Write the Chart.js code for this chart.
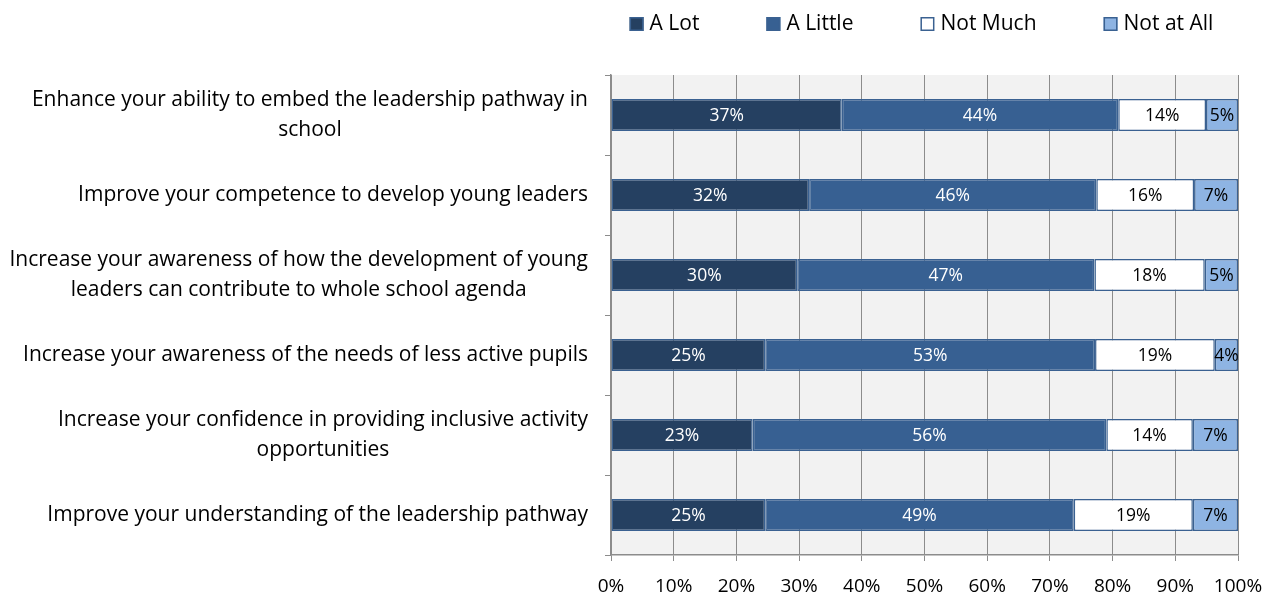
<!DOCTYPE html>
<html>
<head>
<meta charset="utf-8">
<script src="https://cdn.jsdelivr.net/npm/chart.js@4"></script>
<style>
  html, body { margin: 0; padding: 0; background: #fff; }
  #wrap { width: 1266px; height: 594px; }
</style>
</head>
<body>
<div id="wrap"><canvas id="surveyChart" width="1266" height="594"></canvas></div>
<script>
// Survey statements (multi-line labels as in the original)
const statements = [
    ["Enhance your ability to embed the leadership pathway in", "school"],
    ["Improve your competence to develop young leaders"],
    ["Increase your awareness of how the development of young", "leaders can contribute to whole school agenda"],
    ["Increase your awareness of the needs of less active pupils"],
    ["Increase your confidence in providing inclusive activity", "opportunities"],
    ["Improve your understanding of the leadership pathway"]
];

// Share of responses (%)
const aLot     = [36.8, 31.6, 29.7, 24.6, 22.6, 24.6];
const aLittle  = [44.1, 45.8, 47.4, 52.6, 56.4, 49.2];
const notMuch  = [14.0, 15.6, 17.6, 19.1, 13.8, 19.0];
const notAtAll = [5.1, 7.0, 5.3, 3.7, 7.2, 7.2];

const seriesNames = ["A Lot", "A Little", "Not Much", "Not at All"];
const xTicks = [0, 10, 20, 30, 40, 50, 60, 70, 80, 90, 100];

const FONT = "'Open Sans'";
const edge = "#3a6191";

// grey plot background
const plotBackground = {
    id: "plotBackground",
    beforeDraw(chart) {
        const { ctx, chartArea } = chart;
        ctx.save();
        ctx.fillStyle = "#f2f2f2";
        ctx.fillRect(chartArea.left, chartArea.top, chartArea.right - chartArea.left, chartArea.bottom - chartArea.top);
        ctx.restore();
    }
};

// category labels, each block centred on itself and right-aligned to the axis
const categoryLabels = {
    id: "categoryLabels",
    afterDraw(chart) {
        const { ctx, chartArea } = chart;
        const yScale = chart.scales.y;
        ctx.save();
        ctx.font = "21px " + FONT;
        ctx.fillStyle = "#000";
        ctx.textAlign = "center";
        ctx.textBaseline = "middle";
        const lineH = 30;
        const rightEdge = chartArea.left - 23;
        statements.forEach((lines, i) => {
            const y = yScale.getPixelForTick(i);
            const w = Math.max(...lines.map(l => ctx.measureText(l).width));
            const cx = rightEdge - w / 2;
            const y0 = y - (lines.length - 1) * lineH / 2;
            lines.forEach((l, k) => ctx.fillText(l, cx, y0 + k * lineH));
        });
        ctx.restore();
    }
};

// legend row centred over the plot area
const topLegend = {
    id: "topLegend",
    afterDraw(chart) {
        const { ctx, chartArea } = chart;
        const box = 14, gapText = 6, gapItem = 67, y = 24;
        ctx.save();
        ctx.font = "21px " + FONT;
        ctx.textBaseline = "middle";
        ctx.textAlign = "left";
        const widths = chart.data.datasets.map(ds => box + gapText + ctx.measureText(ds.label).width);
        const total = widths.reduce((a, b) => a + b, 0) + gapItem * (widths.length - 1);
        let x = (chartArea.left + chartArea.right) / 2 - 3 - total / 2;
        chart.data.datasets.forEach((ds, i) => {
            ctx.fillStyle = ds.backgroundColor;
            ctx.fillRect(x, y - box / 2, box, box);
            ctx.strokeStyle = edge;
            ctx.lineWidth = 1.5;
            ctx.strokeRect(x + 0.75, y - box / 2 + 0.75, box - 1.5, box - 1.5);
            ctx.fillStyle = "#000";
            ctx.fillText(ds.label, x + box + gapText, y);
            x += widths[i] + gapItem;
        });
        ctx.restore();
    }
};

// percentage inside each segment
const segmentLabels = {
    id: "segmentLabels",
    afterDatasetsDraw(chart) {
        const { ctx } = chart;
        ctx.save();
        ctx.font = "17.5px " + FONT;
        ctx.textAlign = "center";
        ctx.textBaseline = "middle";
        chart.data.datasets.forEach((ds, di) => {
            const meta = chart.getDatasetMeta(di);
            ctx.fillStyle = di < 2 ? "#ffffff" : "#000000";
            meta.data.forEach((bar, i) => {
                const p = bar.getCenterPoint();
                ctx.fillText(Math.round(ds.data[i]) + "%", p.x, p.y + 1);
            });
        });
        ctx.restore();
    }
};

const ctx = document.getElementById("surveyChart").getContext("2d");
new Chart(ctx, {
    type: "bar",
    data: {
        labels: statements.map(s => s.join(" ")),
        datasets: [
            { label: seriesNames[0], data: aLot, backgroundColor: "#254061", borderColor: edge },
            { label: seriesNames[1], data: aLittle, backgroundColor: "#376092", borderColor: edge },
            { label: seriesNames[2], data: notMuch, backgroundColor: "#ffffff", borderColor: edge },
            { label: seriesNames[3], data: notAtAll, backgroundColor: "#8eb4e3", borderColor: edge }
        ].map(ds => Object.assign(ds, {
            borderWidth: 1.5,
            borderSkipped: false,
            barPercentage: 0.4,
            categoryPercentage: 1
        }))
    },
    options: {
        indexAxis: "y",
        responsive: false,
        animation: false,
        layout: { padding: { left: 0, right: 28, top: 75, bottom: 0 } },
        plugins: {
            tooltip: { enabled: false },
            legend: { display: false }
        },
        scales: {
            x: {
                stacked: true,
                min: 0,
                max: 100,
                afterBuildTicks: scale => { scale.ticks = xTicks.map(v => ({ value: v })); },
                afterFit: scale => {
                    scale.height = 39;
                    scale.paddingLeft = 0;
                    scale.paddingRight = 0;
                },
                ticks: {
                    callback: v => v + "%",
                    font: { family: FONT, size: 19 },
                    color: "#000",
                    padding: 14
                },
                grid: {
                    color: "#8c8c8c",
                    lineWidth: 1,
                    tickLength: 6
                },
                border: { color: "#8c8c8c", width: 1.5 }
            },
            y: {
                stacked: true,
                afterFit: scale => { scale.width = 611; },
                ticks: { display: false },
                grid: {
                    drawOnChartArea: false,
                    color: "#8c8c8c",
                    tickLength: 6,
                    offset: true
                },
                border: { color: "#8c8c8c", width: 1.5 }
            }
        }
    },
    plugins: [plotBackground, categoryLabels, topLegend, segmentLabels]
});
</script>
</body>
</html>
